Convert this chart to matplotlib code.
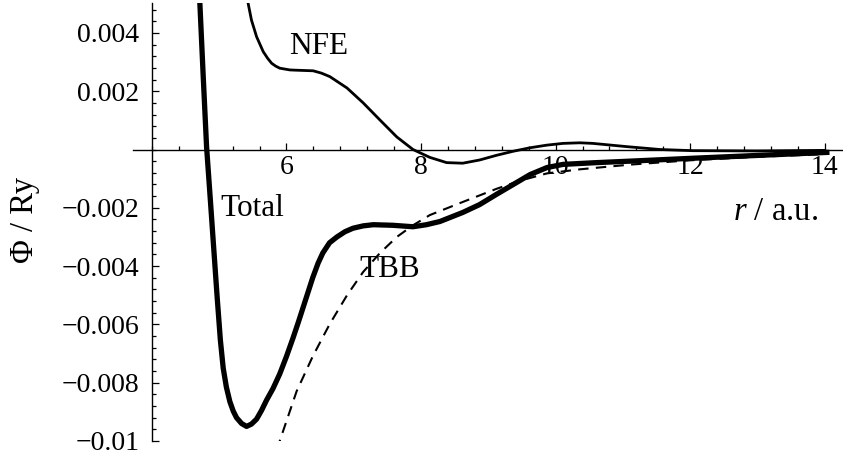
import matplotlib
matplotlib.use("Agg")
import matplotlib.pyplot as plt
from matplotlib.ticker import FixedLocator, MultipleLocator

plt.rcParams["font.family"] = ["Liberation Serif", "DejaVu Serif"]
plt.rcParams["mathtext.fontset"] = "custom"
plt.rcParams["mathtext.rm"] = "Liberation Serif"
plt.rcParams["mathtext.it"] = "Liberation Serif:italic"

# Pair potential components (Rydberg) versus separation r (a.u.)
total_r = [4.70, 4.713, 4.762, 4.813, 4.869, 4.921, 4.970, 5.018, 5.06, 5.107,
           5.159, 5.21, 5.258, 5.333, 5.407, 5.48, 5.556, 5.63, 5.704, 5.80, 5.90,
           6.00, 6.10, 6.18, 6.25, 6.32, 6.39, 6.47, 6.54, 6.64, 6.75, 6.87, 6.99,
           7.14, 7.29, 7.58, 7.88, 8.08, 8.28, 8.62, 8.87, 9.12, 9.37, 9.62, 9.87,
           10.11, 10.61, 11.10, 12.04, 13.03, 14.03]
total_phi = [0.0056, 0.00503, 0.00256, 0.00009, -0.00173, -0.00345, -0.00506,
             -0.00654, -0.0075, -0.00815, -0.00865, -0.00898, -0.00920, -0.00940,
             -0.00950, -0.00942, -0.00925, -0.00895, -0.00860, -0.0082, -0.0077,
             -0.0071, -0.00645, -0.0059, -0.0054, -0.0049, -0.0044, -0.0039,
             -0.00355, -0.0032, -0.00300, -0.00282, -0.00270, -0.00262, -0.00258,
             -0.00260, -0.00265, -0.00258, -0.00247, -0.00216, -0.00189, -0.00154,
             -0.0012, -0.00086, -0.00062, -0.00051, -0.00045, -0.0004, -0.0003,
             -0.0002, -0.0001]

nfe_r = [5.41, 5.43, 5.48, 5.556, 5.654, 5.72, 5.779, 5.84, 5.90, 6.05, 6.15,
         6.397, 6.52, 6.645, 6.90, 7.14, 7.39, 7.64, 7.88, 8.13, 8.38, 8.62, 8.87,
         9.12, 9.37, 9.62, 9.87, 10.11, 10.36, 10.55, 11.05, 11.55, 12.04, 13.00,
         14.00]
nfe_phi = [0.0056, 0.00502, 0.00444, 0.00387, 0.00336, 0.00313, 0.00296, 0.00286,
           0.00279, 0.00273, 0.00272, 0.0027, 0.00262, 0.0025, 0.00211, 0.0016,
           0.00101, 0.00043, 0.0, -0.00027, -0.00045, -0.00047, -0.00036, -0.0002,
           -0.00006, 0.00006, 0.00015, 0.00021, 0.00023, 0.00021, 0.0001, 0.0,
           -0.00004, -0.00005, -0.00003]

tbb_r = [5.86, 5.90, 6.15, 6.39, 6.64, 6.90, 7.14, 7.39, 7.64, 7.88, 8.13, 8.62,
         9.12, 9.47, 9.87, 10.36, 11.10, 12.00, 13.00, 14.00]
tbb_phi = [-0.0103, -0.0100, -0.0083, -0.0071, -0.0060, -0.0050, -0.0042,
           -0.00355, -0.0030, -0.0026, -0.00225, -0.0018, -0.00135, -0.00107,
           -0.00082, -0.00068, -0.00052, -0.00037, -0.00025, -0.00016]

x_major = [6, 8, 10, 12, 14]
x_labels = ["6", "8", "10", "12", "14"]
y_major = [0.004, 0.002, -0.002, -0.004, -0.006, -0.008, -0.01]
y_labels = ["0.004", "0.002", "\u22120.002", "\u22120.004", "\u22120.006",
            "\u22120.008", "\u22120.01"]

fig = plt.figure(figsize=(8.43, 4.55), dpi=100)
ax = fig.add_axes([0.1578, 0.0308, 0.8422, 0.9626])

ax.plot(total_r, total_phi, color="black", lw=3.8, solid_joinstyle="round")
ax.plot(nfe_r, nfe_phi, color="black", lw=2.0, solid_joinstyle="round")
ax.plot(tbb_r, tbb_phi, color="black", lw=1.5, dashes=(5, 3.5))

ax.set_xlim(3.72, 14.27)
ax.set_ylim(-0.0100, 0.005026)

# axes crossing at the origin of the potential, at r = 4
ax.spines["left"].set_position(("data", 4))
ax.spines["bottom"].set_position(("data", 0))
ax.spines["right"].set_visible(False)
ax.spines["top"].set_visible(False)
for s in ("left", "bottom"):
    ax.spines[s].set_linewidth(1.0)

ax.xaxis.set_major_locator(FixedLocator(x_major))
ax.set_xticklabels(x_labels)
ax.xaxis.set_minor_locator(MultipleLocator(0.4))
ax.yaxis.set_major_locator(FixedLocator(y_major))
ax.set_yticklabels(y_labels)
ax.yaxis.set_minor_locator(MultipleLocator(0.0004))

ax.tick_params(which="both", direction="in", width=0.9, labelsize=20)
ax.tick_params(which="major", length=5)
ax.tick_params(which="minor", length=3)
ax.tick_params(axis="x", pad=4)
ax.tick_params(axis="y", pad=9)

ax.text(6.48, 0.00352, "NFE", fontsize=22.5, ha="center", va="center")
ax.text(5.49, -0.00201, "Total", fontsize=22.5, ha="center", va="center")
ax.text(7.54, -0.0041, "TBB", fontsize=22.5, ha="center", va="center")
ax.text(13.26, -0.00214, "$r$ / a.u.", fontsize=23.5, ha="center", va="center")

fig.text(25 / 843, 1 - 220 / 455, "\u03a6 / Ry", fontsize=23.5, rotation=90,
         ha="center", va="center")

fig.savefig("out.png", dpi=100)
